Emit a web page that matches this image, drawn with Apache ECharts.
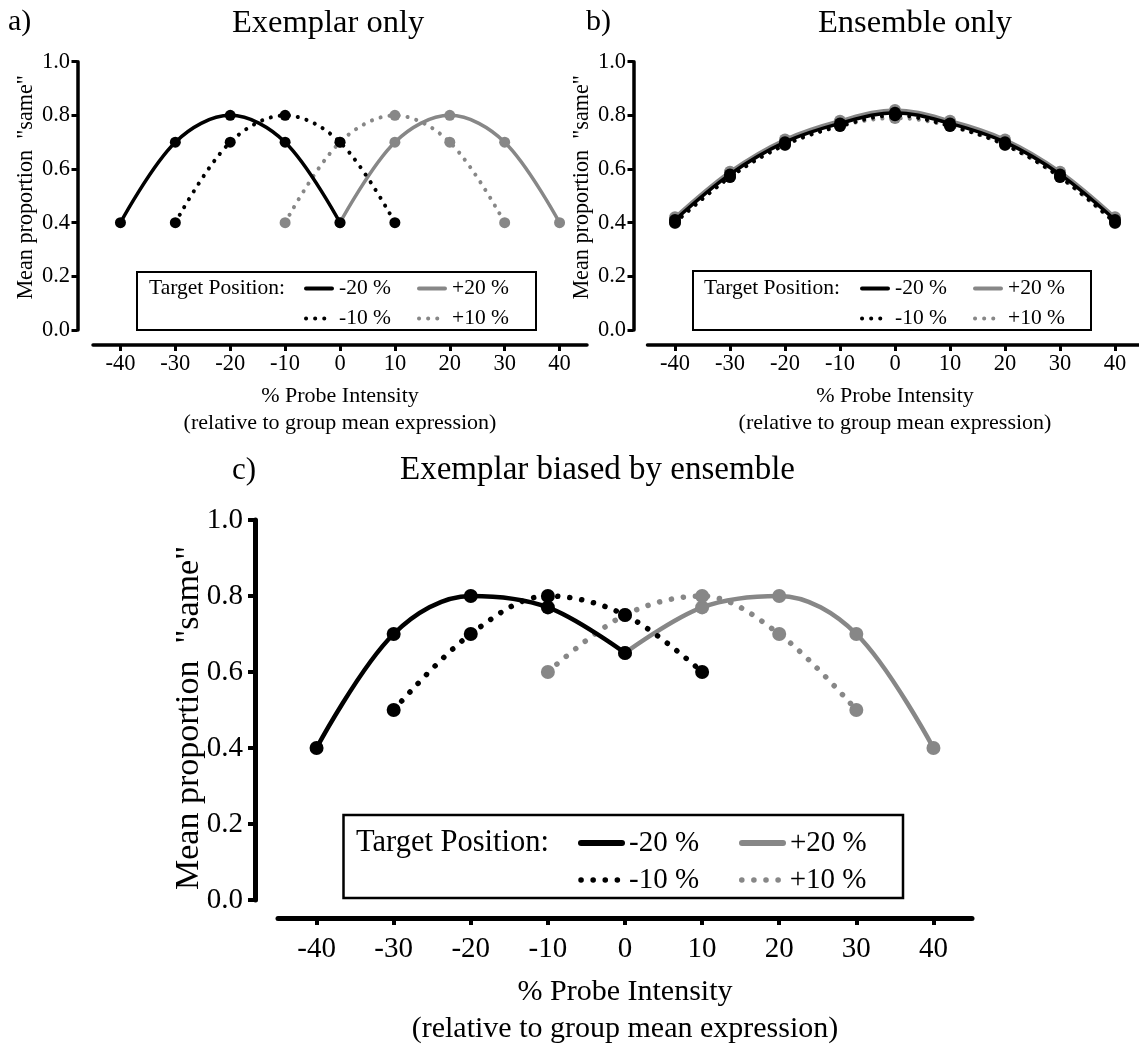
<!DOCTYPE html>
<html>
<head>
<meta charset="utf-8">
<title>Exemplar / ensemble model predictions</title>
<script src="https://cdn.jsdelivr.net/npm/echarts@6/dist/echarts.min.js"></script>
<style>
  html, body { margin: 0; padding: 0; background: #fff; }
  #chart { width: 1139px; height: 1046px; }
</style>
</head>
<body>
<div id="chart"></div>
<script>
// probe intensity (% relative to group mean expression)
var probe = [-40, -30, -20, -10, 0, 10, 20, 30, 40];
var tickValues = [-40, -30, -20, -10, 0, 10, 20, 30, 40];
var targetNames = ['-20 %', '+20 %', '-10 %', '+10 %'];

// a) exemplar only
var exemplarM20 = [0.40, 0.70, 0.80, 0.70, 0.40, null, null, null, null];
var exemplarM10 = [null, 0.40, 0.70, 0.80, 0.70, 0.40, null, null, null];
var exemplarP10 = [null, null, null, 0.40, 0.70, 0.80, 0.70, 0.40, null];
var exemplarP20 = [null, null, null, null, 0.40, 0.70, 0.80, 0.70, 0.40];

// b) ensemble only
var ensembleM20 = [0.41, 0.58, 0.70, 0.77, 0.81, 0.77, 0.70, 0.58, 0.41];
var ensembleM10 = [0.40, 0.57, 0.69, 0.76, 0.80, 0.76, 0.69, 0.57, 0.40];
var ensembleP10 = [0.40, 0.57, 0.69, 0.76, 0.79, 0.76, 0.69, 0.57, 0.40];
var ensembleP20 = [0.42, 0.59, 0.71, 0.78, 0.82, 0.78, 0.71, 0.59, 0.42];

// c) exemplar biased by ensemble
var biasedM20 = [0.40, 0.70, 0.80, 0.77, 0.65, null, null, null, null];
var biasedM10 = [null, 0.50, 0.70, 0.80, 0.75, 0.60, null, null, null];
var biasedP10 = [null, null, null, 0.60, 0.75, 0.80, 0.70, 0.50, null];
var biasedP20 = [null, null, null, null, 0.65, 0.77, 0.80, 0.70, 0.40];

var FONT = 'Liberation Serif';
var BLACK = '#000000';
var GREY = '#878787';

function pairs(ys) {
  var out = [];
  for (var i = 0; i < probe.length; i++) {
    if (ys[i] !== null) out.push([probe[i], ys[i]]);
  }
  return out;
}

// per-panel look (sizes grow for the big panel c)
var panels = [
  { grid: { left: 93, top: 61.7, width: 494, height: 268.3 }, xOff: 15, yOff: 15.5,
    axisW: 3.5, tickW: 3, tickLen: 6, tickFont: 22.5, nameFont: 22, yNameFont: 22.2, nameLH: 27,
    xLabelMargin: 8, yLabelMargin: 7.5, xNameGap: 37.5, yNameGap: 40, yNamePad: [0, 0, 0, 17],
    lineW: 3.5, dotW: 4, dotGap: 9, dot: 11,
    data: [exemplarP20, exemplarP10, exemplarM10, exemplarM20] },
  { grid: { left: 647.5, top: 61.7, width: 495, height: 268.3 }, xOff: 15, yOff: 14,
    axisW: 3.5, tickW: 3, tickLen: 6, tickFont: 22.5, nameFont: 22, yNameFont: 22.2, nameLH: 27,
    xLabelMargin: 8, yLabelMargin: 7.5, xNameGap: 37.5, yNameGap: 40, yNamePad: [0, 0, 0, 17],
    lineW: 3.5, dotW: 4, dotGap: 9, dot: 12,
    data: [ensembleP20, ensembleP10, ensembleM10, ensembleM20] },
  { grid: { left: 278, top: 520, width: 694, height: 380 }, xOff: 18, yOff: 23,
    axisW: 5, tickW: 4, tickLen: 7, tickFont: 29, nameFont: 30, yNameFont: 34, nameLH: 37,
    xLabelMargin: 17, yLabelMargin: 12, xNameGap: 56, yNameGap: 49, yNamePad: [0, 16, 0, 0],
    lineW: 4.5, dotW: 5.5, dotGap: 12, dot: 14,
    data: [biasedP20, biasedP10, biasedM10, biasedM20] }
];

var grids = [], xAxes = [], yAxes = [], series = [];

panels.forEach(function (p, idx) {
  grids.push(Object.assign({ outerBoundsMode: 'none', containLabel: false }, p.grid));

  xAxes.push({
    type: 'value', gridIndex: idx, min: -45, max: 45, offset: p.xOff,
    axisLine: { show: true, onZero: false, lineStyle: { color: BLACK, width: p.axisW } },
    axisTick: { show: true, customValues: tickValues, length: p.tickLen,
      lineStyle: { color: BLACK, width: p.tickW } },
    axisLabel: { customValues: tickValues, margin: p.xLabelMargin, color: BLACK,
      fontFamily: FONT, fontSize: p.tickFont },
    splitLine: { show: false },
    name: '% Probe Intensity\n(relative to group mean expression)',
    nameLocation: 'middle', nameGap: p.xNameGap, nameMoveOverlap: false,
    nameTextStyle: { color: BLACK, fontFamily: FONT, fontSize: p.nameFont, lineHeight: p.nameLH }
  });

  yAxes.push({
    type: 'value', gridIndex: idx, min: 0, max: 1, interval: 0.2, offset: p.yOff,
    axisLine: { show: true, onZero: false, lineStyle: { color: BLACK, width: p.axisW } },
    axisTick: { show: true, length: p.tickLen, lineStyle: { color: BLACK, width: p.tickW } },
    axisLabel: { margin: p.yLabelMargin, color: BLACK, fontFamily: FONT, fontSize: p.tickFont,
      formatter: function (v) { return v.toFixed(1); } },
    splitLine: { show: false },
    name: 'Mean proportion  "same"', nameLocation: 'middle', nameRotate: 90,
    nameGap: p.yNameGap, nameMoveOverlap: false,
    nameTextStyle: { color: BLACK, fontFamily: FONT, fontSize: p.yNameFont, padding: p.yNamePad }
  });

  // grey first so the black curves sit on top
  var defs = [
    { name: '+20 %', color: GREY, dotted: false },
    { name: '+10 %', color: GREY, dotted: true },
    { name: '-10 %', color: BLACK, dotted: true },
    { name: '-20 %', color: BLACK, dotted: false }
  ];
  defs.forEach(function (d, k) {
    series.push({
      name: d.name, type: 'line', xAxisIndex: idx, yAxisIndex: idx,
      data: pairs(p.data[k]), smooth: 0.35,
      symbol: 'circle', symbolSize: p.dot, showSymbol: true,
      lineStyle: { color: d.color, width: d.dotted ? p.dotW : p.lineW,
        type: d.dotted ? [0.1, p.dotGap] : 'solid', cap: 'round' },
      itemStyle: { color: d.color },
      emphasis: { disabled: true },
      z: 2 + k
    });
  });
});

function legendFor(left, top, font, iconW, textW, gap, lineW, cLegend) {
  return {
    left: left, top: top, width: 2 * (iconW + 5 + textW) + gap + 10,
    orient: 'horizontal', padding: 0, selectedMode: false,
    itemWidth: iconW, itemHeight: font, itemGap: gap,
    itemStyle: { opacity: 0 },
    lineStyle: { width: lineW },
    textStyle: { color: BLACK, fontFamily: FONT, fontSize: font, width: textW, lineHeight: font,
      padding: [0, 0, 0, 2] },
    data: targetNames.map(function (n) {
      var item = { name: n };
      if (cLegend && n.indexOf('10') >= 0) item.lineStyle = { width: 5.5, type: [0.1, 12] };
      return item;
    })
  };
}

var titleStyle = function (size) {
  return { color: BLACK, fontFamily: FONT, fontSize: size, fontWeight: 'normal' };
};

var option = {
  animation: false,
  backgroundColor: '#ffffff',
  title: [
    { text: 'a)', left: 8, top: 7, padding: 0, textStyle: titleStyle(30) },
    { text: 'Exemplar only', left: 232, top: 7, padding: 0, textStyle: titleStyle(32.5) },
    { text: 'b)', left: 586, top: 7, padding: 0, textStyle: titleStyle(30) },
    { text: 'Ensemble only', left: 818, top: 7, padding: 0, textStyle: titleStyle(32.5) },
    { text: 'c)', left: 232, top: 455, padding: 0, textStyle: titleStyle(31) },
    { text: 'Exemplar biased by ensemble', left: 400, top: 454, padding: 0, textStyle: titleStyle(33) }
  ],
  grid: grids,
  xAxis: xAxes,
  yAxis: yAxes,
  legend: [
    legendFor(304, 277.5, 21.5, 26, 70, 8, 4, false),
    legendFor(860, 277.5, 21.5, 26, 70, 8, 4, false),
    legendFor(578, 828.5, 29, 41, 102, 8, 6, true)
  ],
  graphic: [
    { type: 'rect', z: 0, shape: { x: 137, y: 272, width: 399, height: 58 },
      style: { fill: 'rgba(0,0,0,0)', stroke: BLACK, lineWidth: 2 } },
    { type: 'text', x: 149, y: 288, style: { text: 'Target Position:', fill: BLACK,
      fontFamily: FONT, fontSize: 21.5, verticalAlign: 'middle' } },
    { type: 'rect', z: 0, shape: { x: 693, y: 271, width: 398, height: 59 },
      style: { fill: 'rgba(0,0,0,0)', stroke: BLACK, lineWidth: 2 } },
    { type: 'text', x: 704, y: 288, style: { text: 'Target Position:', fill: BLACK,
      fontFamily: FONT, fontSize: 21.5, verticalAlign: 'middle' } },
    { type: 'rect', z: 0, shape: { x: 343.5, y: 815, width: 559.5, height: 83 },
      style: { fill: 'rgba(0,0,0,0)', stroke: BLACK, lineWidth: 2.5 } },
    { type: 'text', x: 356, y: 843, style: { text: 'Target Position:', fill: BLACK,
      fontFamily: FONT, fontSize: 30.5, verticalAlign: 'middle' } }
  ],
  series: series
};

var chart = echarts.init(document.getElementById('chart'), null, { renderer: 'canvas' });
chart.setOption(option);
</script>
</body>
</html>
